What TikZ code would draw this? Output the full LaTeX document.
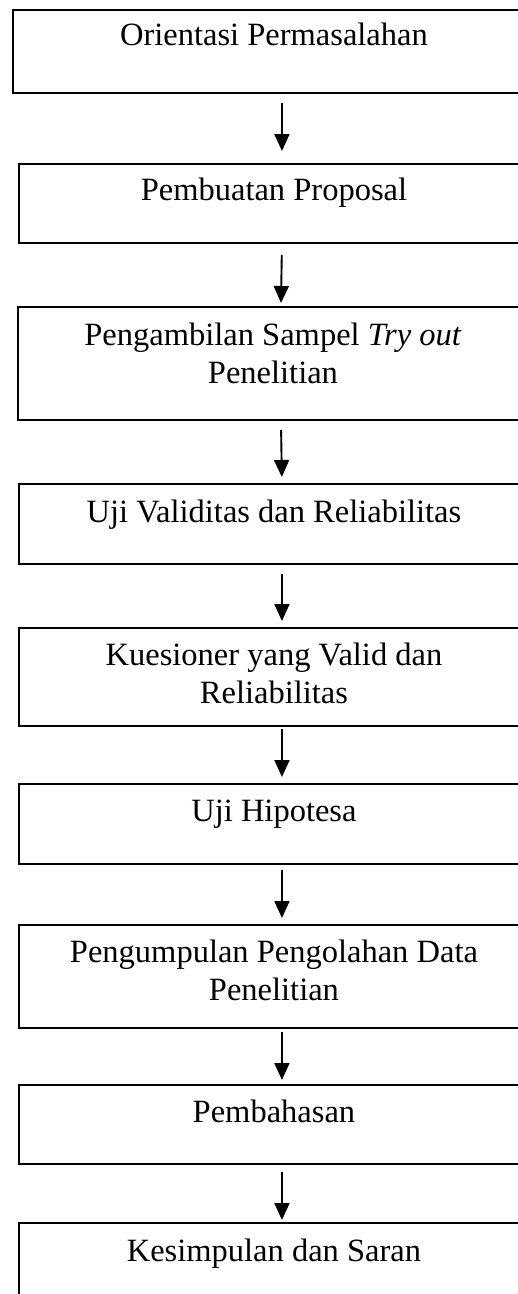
\documentclass[tikz,border=0pt]{standalone}
\usepackage{fontspec}
\setmainfont{Liberation Serif}
\usepackage{tikz}
\usetikzlibrary{arrows.meta,positioning}

\tikzset{
  stepbox/.style={draw, line width=1.9pt, anchor=north west, inner sep=0pt, minimum width=510pt},
  steptext/.style={inner sep=0pt, align=center, font=\fontsize{32.5}{37.5}\selectfont},
  flow/.style={line width=1.9pt, -{Triangle[width=15pt,length=17pt]}}
}

\begin{document}
\begin{tikzpicture}
  \useasboundingbox (0pt,0pt) rectangle (518pt,-1294pt);
  % boxes
  \node[stepbox, minimum width=522pt, minimum height=83pt] (orientasi) at (12pt,-9pt) {};
  \node[stepbox, minimum height=79pt]  (proposal)    at (18pt,-163pt) {};
  \node[stepbox, minimum height=113pt] (sampel)      at (17pt,-306pt) {};
  \node[stepbox, minimum height=80pt]  (uji)         at (18pt,-483pt) {};
  \node[stepbox, minimum height=98pt]  (kuesioner)   at (18pt,-627pt) {};
  \node[stepbox, minimum height=80pt]  (hipotesa)    at (18pt,-783pt) {};
  \node[stepbox, minimum height=103pt] (pengumpulan) at (18pt,-924pt) {};
  \node[stepbox, minimum height=79pt]  (pembahasan)  at (18pt,-1084pt) {};
  \node[stepbox, minimum height=90pt]  (kesimpulan)  at (18pt,-1222pt) {};
  % texts
  \node[steptext, below=14pt of orientasi.north]   (orientasi-txt)   {Orientasi Permasalahan};
  \node[steptext, below=15pt of proposal.north]    (proposal-txt)    {Pembuatan Proposal};
  \node[steptext, below=17pt of sampel.north]      (sampel-txt)      {Pengambilan Sampel \textit{Try out}\\Penelitian};
  \node[steptext, below=17pt of uji.north]         (uji-txt)         {Uji Validitas dan Reliabilitas};
  \node[steptext, below=16pt of kuesioner.north]   (kuesioner-txt)   {Kuesioner yang Valid dan\\Reliabilitas};
  \node[steptext, below=17pt of hipotesa.north]    (hipotesa-txt)    {Uji Hipotesa};
  \node[steptext, below=16pt of pengumpulan.north] (pengumpulan-txt) {Pengumpulan Pengolahan Data\\Penelitian};
  \node[steptext, below=16pt of pembahasan.north]  (pembahasan-txt)  {Pembahasan};
  \node[steptext, below=17pt of kesimpulan.north]  (kesimpulan-txt)  {Kesimpulan dan Saran};
  % arrows
  \foreach \a/\b/\s/\e in {orientasi/proposal/9/12, proposal/sampel/11/3, sampel/uji/9/6,
      uji/kuesioner/9/6, kuesioner/hipotesa/2/6, hipotesa/pengumpulan/5/6,
      pengumpulan/pembahasan/3/4, pembahasan/kesimpulan/7/2}
    \draw[flow, shorten <=\s pt, shorten >=\e pt] ([xshift=8pt]\a.south) -- ([xshift=8pt]\b.north);
\end{tikzpicture}
\end{document}
